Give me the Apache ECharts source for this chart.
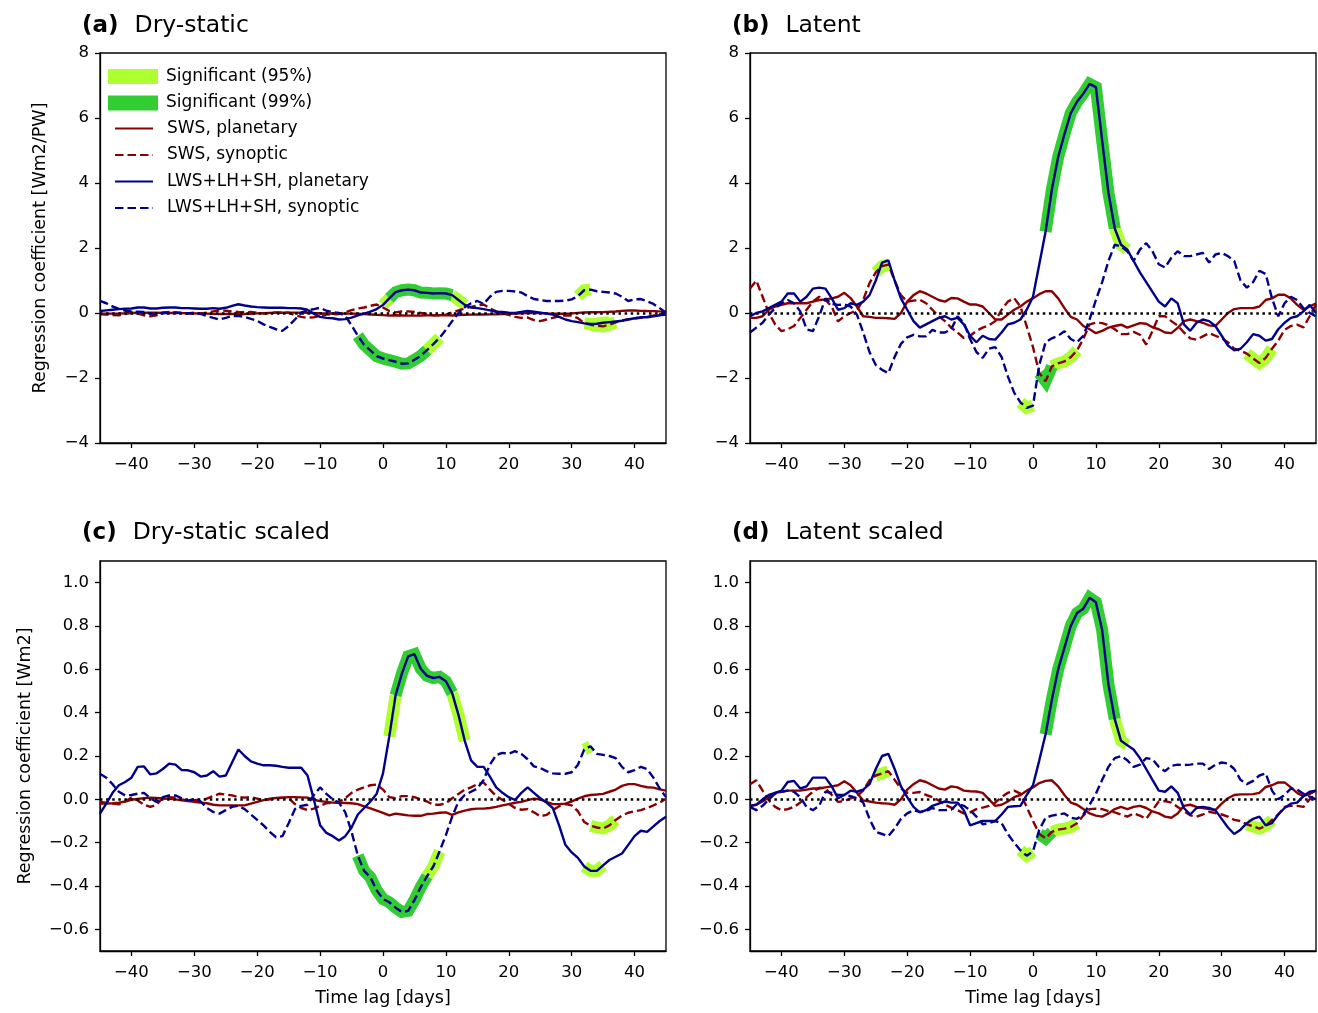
<!DOCTYPE html>
<html><head><meta charset="utf-8">
<script src="https://cdn.jsdelivr.net/npm/echarts@6/dist/echarts.min.js"></script>
<style>html,body{margin:0;padding:0;background:#fff}#chart{width:1318px;height:1013px}</style>
</head><body><div id="chart"></div>
<script>
// ---- time lags (days) ----
const lags = [-45,-44,-43,-42,-41,-40,-39,-38,-37,-36,-35,-34,-33,-32,-31,-30,-29,-28,-27,-26,-25,-24,-23,-22,-21,-20,-19,-18,-17,-16,-15,-14,-13,-12,-11,-10,-9,-8,-7,-6,-5,-4,-3,-2,-1,0,1,2,3,4,5,6,7,8,9,10,11,12,13,14,15,16,17,18,19,20,21,22,23,24,25,26,27,28,29,30,31,32,33,34,35,36,37,38,39,40,41,42,43,44,45];
const xTicks = [-40,-30,-20,-10,0,10,20,30,40];
const cdYTicks = [-0.6,-0.4,-0.2,0,0.2,0.4,0.6,0.8,1.0];

// ---- (a) Dry-static ----
const aSwsPlan = [-0.02,-0.02,-0.02,-0.016,-0.01,0.0,0.002,0.006,0.008,0.006,
 0.004,0.002,0.0,-0.005,-0.009,-0.013,-0.016,-0.02,-0.027,-0.03,
 -0.03,-0.03,-0.03,-0.03,-0.022,-0.013,-0.004,0.003,0.006,0.009,
 0.011,0.011,0.01,0.009,-0.002,-0.009,-0.013,-0.016,-0.017,-0.018,
 -0.02,-0.024,-0.034,-0.045,-0.056,-0.066,-0.08,-0.071,-0.075,-0.08,
 -0.082,-0.082,-0.073,-0.071,-0.067,-0.064,-0.077,-0.064,-0.056,-0.05,
 -0.046,-0.046,-0.043,-0.037,-0.03,-0.024,-0.017,-0.013,-0.004,0.003,
 0.0,-0.013,-0.024,-0.024,-0.021,-0.011,0.003,0.015,0.021,0.024,
 0.027,0.037,0.048,0.066,0.075,0.075,0.066,0.06,0.058,0.049,0.043];
const aSwsSyn = [-0.04,-0.05,-0.06,-0.07,-0.03,0.02,-0.02,-0.07,-0.1,-0.07,
 0.02,0.03,0.02,0.0,-0.02,-0.01,-0.01,0.01,0.05,0.08,
 0.07,0.05,0.03,0.02,0.03,0.01,-0.02,0.0,0.02,0.02,
 0.01,-0.07,-0.12,-0.15,-0.13,-0.09,-0.05,-0.04,-0.03,0.02,
 0.09,0.14,0.17,0.22,0.26,0.17,0.06,0.02,0.05,0.05,
 0.03,0.0,-0.03,-0.07,-0.07,-0.05,0.02,0.08,0.14,0.19,
 0.23,0.26,0.14,0.05,-0.01,-0.06,-0.12,-0.15,-0.14,-0.22,
 -0.25,-0.2,-0.15,-0.1,-0.07,-0.08,-0.16,-0.31,-0.36,-0.39,
 -0.41,-0.36,-0.29,-0.23,-0.19,-0.17,-0.15,-0.12,-0.08,-0.04,0.01];
const aLwsPlan = [0.06,0.08,0.1,0.12,0.13,0.14,0.17,0.17,0.14,0.14,
 0.16,0.17,0.17,0.15,0.15,0.14,0.13,0.13,0.15,0.13,
 0.16,0.22,0.27,0.23,0.2,0.18,0.17,0.16,0.16,0.16,
 0.15,0.15,0.14,0.1,-0.02,-0.12,-0.15,-0.16,-0.2,-0.19,
 -0.14,-0.07,-0.02,0.04,0.12,0.25,0.45,0.64,0.7,0.72,
 0.7,0.63,0.62,0.6,0.61,0.6,0.55,0.4,0.25,0.17,
 0.15,0.12,0.08,0.04,0.03,0.01,0.0,0.03,0.06,0.04,
 0.01,-0.02,-0.05,-0.12,-0.2,-0.25,-0.28,-0.32,-0.34,-0.33,
 -0.3,-0.28,-0.26,-0.24,-0.2,-0.16,-0.13,-0.13,-0.1,-0.07,-0.05];
const aLwsSyn = [0.37,0.3,0.2,0.13,0.07,0.05,0.04,0.03,-0.02,-0.03,
 0.0,0.0,0.01,0.0,-0.01,0.01,-0.03,-0.09,-0.15,-0.2,
 -0.15,-0.09,-0.09,-0.12,-0.18,-0.24,-0.35,-0.43,-0.5,-0.55,
 -0.4,-0.2,0.01,0.08,0.12,0.16,0.07,0.03,0.0,-0.09,
 -0.38,-0.7,-0.98,-1.15,-1.33,-1.4,-1.45,-1.5,-1.56,-1.55,
 -1.44,-1.32,-1.14,-0.96,-0.76,-0.52,-0.25,0.0,0.18,0.3,
 0.37,0.28,0.5,0.65,0.68,0.68,0.66,0.63,0.52,0.43,
 0.4,0.37,0.37,0.37,0.38,0.42,0.52,0.7,0.72,0.67,
 0.65,0.63,0.6,0.5,0.37,0.42,0.43,0.36,0.28,0.15,0.01];

// ---- (b) Latent ----
const bSwsPlan = [-0.15,-0.15,-0.1,0.1,0.2,0.25,0.3,0.3,0.3,0.3,
 0.35,0.4,0.42,0.45,0.5,0.62,0.46,0.2,-0.1,-0.12,
 -0.15,-0.15,-0.16,-0.18,0.0,0.35,0.55,0.67,0.6,0.5,
 0.4,0.35,0.46,0.45,0.35,0.26,0.26,0.2,0.0,-0.2,
 -0.2,-0.05,0.1,0.2,0.35,0.45,0.58,0.67,0.67,0.45,
 0.15,-0.12,-0.2,-0.4,-0.5,-0.62,-0.55,-0.45,-0.4,-0.36,
 -0.45,-0.38,-0.31,-0.33,-0.44,-0.5,-0.6,-0.62,-0.46,-0.25,
 -0.2,-0.25,-0.3,-0.38,-0.4,-0.2,0.0,0.12,0.15,0.15,
 0.15,0.2,0.4,0.45,0.56,0.56,0.45,0.25,0.1,0.2,0.3];
const bSwsSyn = [0.75,1.0,0.5,0.0,-0.35,-0.56,-0.5,-0.4,-0.15,0.1,
 0.35,0.5,0.4,0.2,-0.26,-0.1,0.0,0.08,0.4,0.92,
 1.25,1.44,1.49,1.0,0.55,0.35,0.38,0.41,0.3,0.1,
 -0.1,-0.25,-0.45,-0.6,-0.77,-0.7,-0.55,-0.45,-0.38,-0.25,
 0.1,0.35,0.46,0.2,-0.41,-1.05,-1.85,-2.1,-1.64,-1.55,
 -1.49,-1.36,-1.15,-0.8,-0.35,-0.3,-0.31,-0.38,-0.5,-0.65,
 -0.65,-0.58,-0.67,-0.97,-0.55,-0.1,-0.1,-0.25,-0.38,-0.6,
 -0.78,-0.82,-0.72,-0.62,-0.7,-0.78,-0.9,-1.1,-1.16,-1.25,
 -1.4,-1.54,-1.38,-1.1,-0.85,-0.52,-0.4,-0.36,-0.44,-0.1,0.26];
const bLwsPlan = [-0.1,0.0,0.05,0.15,0.25,0.35,0.6,0.6,0.35,0.5,
 0.75,0.78,0.75,0.45,0.1,0.15,0.3,0.25,0.35,0.55,
 1.0,1.55,1.62,1.0,0.45,0.1,-0.25,-0.45,-0.35,-0.25,
 -0.15,-0.1,-0.2,-0.15,-0.35,-0.7,-0.9,-0.7,-0.8,-0.82,
 -0.6,-0.35,-0.3,-0.2,0.1,0.5,1.5,2.5,3.8,4.8,
 5.5,6.15,6.5,6.75,7.05,6.95,5.3,3.7,2.6,2.1,
 1.95,1.6,1.25,0.95,0.65,0.35,0.2,0.45,0.3,-0.35,
 -0.55,-0.3,-0.2,-0.25,-0.4,-0.7,-1.0,-1.15,-1.1,-0.9,
 -0.65,-0.7,-0.85,-0.8,-0.5,-0.3,-0.15,-0.1,0.05,0.25,0.0];
const bLwsSyn = [-0.6,-0.45,-0.3,-0.05,0.15,0.3,0.4,0.3,0.05,-0.5,
 -0.56,-0.1,0.45,0.28,0.25,0.26,0.2,-0.05,-0.6,-1.2,
 -1.6,-1.75,-1.85,-1.35,-0.95,-0.75,-0.67,-0.72,-0.72,-0.52,
 -0.6,-0.6,-0.5,-0.1,-0.3,-0.8,-1.2,-1.38,-1.1,-1.05,
 -1.35,-1.95,-2.45,-2.75,-2.92,-2.85,-1.6,-0.9,-0.78,-0.7,
 -0.56,-0.8,-0.9,-0.7,-0.2,0.4,0.95,1.6,2.1,2.05,
 1.9,1.6,1.95,2.15,1.9,1.5,1.4,1.7,1.9,1.75,
 1.75,1.8,1.85,1.55,1.8,1.85,1.75,1.6,1.0,0.78,
 0.95,1.3,1.2,0.45,-0.1,0.3,0.5,0.4,0.15,0.0,-0.1];

// ---- (c) Dry-static scaled ----
const cSwsPlan = [-0.02,-0.02,-0.018,-0.015,-0.01,-0.002,0.002,0.005,0.008,0.006,
 0.004,0.002,0.0,-0.004,-0.008,-0.012,-0.015,-0.018,-0.025,-0.028,
 -0.028,-0.028,-0.028,-0.028,-0.02,-0.012,-0.004,0.003,0.006,0.008,
 0.01,0.01,0.009,0.008,-0.002,-0.008,-0.012,-0.015,-0.016,-0.017,
 -0.018,-0.022,-0.032,-0.042,-0.052,-0.062,-0.074,-0.066,-0.07,-0.074,
 -0.076,-0.076,-0.068,-0.066,-0.062,-0.06,-0.072,-0.06,-0.052,-0.046,
 -0.043,-0.043,-0.04,-0.035,-0.028,-0.022,-0.016,-0.012,-0.004,0.003,
 0.0,-0.012,-0.022,-0.022,-0.02,-0.01,0.003,0.014,0.02,0.022,
 0.025,0.035,0.045,0.062,0.07,0.07,0.062,0.056,0.054,0.046,0.04];
const cSwsSyn = [-0.012,-0.015,-0.02,-0.023,-0.01,0.008,-0.005,-0.025,-0.035,-0.025,
 0.008,0.01,0.008,0.0,-0.005,-0.004,-0.002,0.003,0.015,0.026,
 0.022,0.018,0.01,0.008,0.01,0.003,-0.005,0.0,0.005,0.008,
 0.005,-0.022,-0.04,-0.05,-0.043,-0.03,-0.018,-0.015,-0.012,0.005,
 0.03,0.045,0.055,0.065,0.068,0.045,0.01,0.005,0.015,0.015,
 0.01,0.0,-0.01,-0.025,-0.025,-0.018,0.005,0.025,0.045,0.055,
 0.07,0.078,0.045,0.015,-0.003,-0.02,-0.04,-0.048,-0.045,-0.06,
 -0.078,-0.072,-0.05,-0.032,-0.022,-0.028,-0.055,-0.105,-0.122,-0.13,
 -0.135,-0.12,-0.095,-0.075,-0.062,-0.055,-0.05,-0.04,-0.028,-0.015,0.003];
const cLwsPlan = [-0.066,-0.02,0.03,0.065,0.08,0.1,0.15,0.152,0.115,0.12,
 0.14,0.165,0.16,0.135,0.134,0.125,0.105,0.11,0.13,0.105,
 0.11,0.17,0.23,0.2,0.175,0.165,0.157,0.157,0.155,0.15,
 0.146,0.146,0.146,0.11,0.0,-0.12,-0.155,-0.17,-0.19,-0.17,
 -0.13,-0.07,-0.04,-0.01,0.026,0.12,0.29,0.48,0.58,0.66,
 0.67,0.603,0.57,0.56,0.565,0.545,0.49,0.39,0.27,0.18,
 0.15,0.15,0.105,0.055,0.03,0.01,-0.003,0.03,0.055,0.03,
 0.005,-0.015,-0.04,-0.12,-0.21,-0.245,-0.27,-0.31,-0.33,-0.33,
 -0.305,-0.28,-0.265,-0.25,-0.21,-0.17,-0.145,-0.15,-0.125,-0.1,-0.08];
const cLwsSyn = [0.118,0.1,0.07,0.035,0.018,0.02,0.026,0.03,0.005,-0.012,
 0.01,0.018,0.018,0.005,-0.005,0.0,-0.01,-0.04,-0.058,-0.066,
 -0.05,-0.035,-0.03,-0.045,-0.07,-0.095,-0.12,-0.15,-0.175,-0.17,
 -0.11,-0.045,-0.03,-0.025,0.02,0.055,0.025,0.0,-0.015,-0.06,
 -0.15,-0.26,-0.33,-0.36,-0.42,-0.46,-0.475,-0.5,-0.52,-0.515,
 -0.465,-0.405,-0.355,-0.31,-0.24,-0.165,-0.08,-0.01,0.02,0.035,
 0.05,0.09,0.16,0.205,0.214,0.21,0.222,0.21,0.185,0.152,
 0.145,0.13,0.12,0.118,0.118,0.125,0.16,0.23,0.245,0.21,
 0.205,0.2,0.19,0.15,0.125,0.135,0.15,0.14,0.1,0.05,0.01];

// ---- (d) Latent scaled ----
const dSwsPlan = [-0.03,-0.025,-0.01,0.01,0.03,0.035,0.04,0.04,0.04,0.045,
 0.05,0.05,0.055,0.06,0.065,0.083,0.065,0.03,-0.005,-0.01,
 -0.015,-0.018,-0.02,-0.025,0.0,0.045,0.07,0.088,0.08,0.065,
 0.05,0.045,0.06,0.055,0.04,0.037,0.036,0.03,0.0,-0.03,
 -0.025,-0.01,0.01,0.02,0.04,0.055,0.075,0.085,0.088,0.06,
 0.02,-0.015,-0.025,-0.045,-0.065,-0.075,-0.08,-0.065,-0.045,-0.035,
 -0.045,-0.035,-0.03,-0.04,-0.056,-0.065,-0.08,-0.085,-0.065,-0.03,
 -0.025,-0.035,-0.04,-0.045,-0.05,-0.02,0.005,0.02,0.023,0.023,
 0.024,0.03,0.057,0.065,0.078,0.078,0.055,0.03,0.015,0.025,0.04];
const dSwsSyn = [0.07,0.088,0.04,-0.005,-0.035,-0.05,-0.045,-0.035,-0.015,0.01,
 0.035,0.054,0.05,0.02,-0.012,-0.008,0.005,0.015,0.04,0.088,
 0.11,0.12,0.13,0.09,0.05,0.03,0.03,0.034,0.02,0.01,
 -0.005,-0.025,-0.038,-0.05,-0.065,-0.06,-0.045,-0.038,-0.03,-0.015,
 0.01,0.03,0.04,0.026,-0.035,-0.1,-0.16,-0.18,-0.15,-0.14,
 -0.135,-0.128,-0.11,-0.075,-0.045,-0.043,-0.045,-0.054,-0.06,-0.07,
 -0.08,-0.065,-0.075,-0.09,-0.05,-0.01,-0.008,-0.015,-0.035,-0.055,
 -0.074,-0.08,-0.07,-0.058,-0.063,-0.07,-0.08,-0.095,-0.1,-0.115,
 -0.125,-0.135,-0.122,-0.095,-0.07,-0.035,-0.03,-0.03,-0.035,0.0,0.026];
const dLwsPlan = [-0.03,-0.025,0.0,0.02,0.03,0.04,0.08,0.085,0.05,0.06,
 0.1,0.1,0.1,0.06,0.005,0.02,0.04,0.035,0.045,0.07,
 0.14,0.2,0.21,0.14,0.06,0.01,-0.035,-0.06,-0.05,-0.03,
 -0.02,-0.01,-0.015,-0.015,-0.05,-0.12,-0.11,-0.1,-0.1,-0.1,
 -0.07,-0.035,-0.032,-0.03,0.02,0.065,0.18,0.3,0.46,0.6,
 0.7,0.8,0.86,0.88,0.93,0.91,0.78,0.53,0.37,0.27,
 0.25,0.23,0.19,0.14,0.09,0.04,0.035,0.06,0.03,-0.04,
 -0.07,-0.04,-0.035,-0.04,-0.05,-0.09,-0.13,-0.16,-0.14,-0.11,
 -0.09,-0.08,-0.12,-0.11,-0.07,-0.04,-0.02,-0.015,0.015,0.035,0.04];
const dLwsSyn = [-0.035,-0.05,-0.03,0.0,0.026,0.035,0.04,0.035,0.01,-0.035,
 -0.05,-0.03,0.035,0.03,0.02,0.02,0.015,0.005,-0.015,-0.09,
 -0.15,-0.16,-0.17,-0.135,-0.09,-0.065,-0.05,-0.058,-0.055,-0.04,
 -0.05,-0.05,-0.048,-0.02,-0.03,-0.05,-0.08,-0.115,-0.11,-0.1,
 -0.11,-0.16,-0.2,-0.235,-0.26,-0.24,-0.14,-0.085,-0.075,-0.07,
 -0.065,-0.085,-0.09,-0.07,-0.025,0.026,0.09,0.15,0.19,0.2,
 0.18,0.15,0.16,0.19,0.185,0.15,0.13,0.155,0.16,0.158,
 0.16,0.165,0.165,0.14,0.16,0.17,0.165,0.14,0.09,0.07,
 0.085,0.11,0.12,0.04,0.0,0.02,0.05,0.045,0.026,0.012,0.0];

// ---- significant lag ranges [from, to] per line ----
const aSig95 = {lwsPlan:[[0,1],[11,13],[32,36]], lwsSyn:[[7,9],[31,33]], swsSyn:[[33,37]]};
const aSig99 = {lwsPlan:[[1,11]], lwsSyn:[[-4,7]]};
const bSig95 = {lwsPlan:[[13,15]], swsSyn:[[-25,-23],[3,7],[34,38]], lwsSyn:[[-2,0]]};
const bSig99 = {lwsPlan:[[2,13]], swsSyn:[[1,3]]};
const cSig95 = {lwsPlan:[[1,2],[11,13],[32,35]], lwsSyn:[[7,9],[32,33]], swsSyn:[[33,37]]};
const cSig99 = {lwsPlan:[[2,11]], lwsSyn:[[-4,7]]};
const dSig95 = {lwsPlan:[[13,15]], swsSyn:[[-25,-23],[3,7],[34,38]], lwsSyn:[[-2,0]]};
const dSig99 = {lwsPlan:[[2,13]], swsSyn:[[1,3]]};

const panelTitles = [['(a)','Dry-static'],['(b)','Latent'],['(c)','Dry-static scaled'],['(d)','Latent scaled']];
const lineNames = {swsPlan:'SWS, planetary', swsSyn:'SWS, synoptic', lwsPlan:'LWS+LH+SH, planetary', lwsSyn:'LWS+LH+SH, synoptic'};
const sigNames = ['Significant (95%)','Significant (99%)'];

// ---------------- build chart ----------------
const panels = [
  {lines:{swsPlan:aSwsPlan, swsSyn:aSwsSyn, lwsPlan:aLwsPlan, lwsSyn:aLwsSyn}, s95:aSig95, s99:aSig99},
  {lines:{swsPlan:bSwsPlan, swsSyn:bSwsSyn, lwsPlan:bLwsPlan, lwsSyn:bLwsSyn}, s95:bSig95, s99:bSig99},
  {lines:{swsPlan:cSwsPlan, swsSyn:cSwsSyn, lwsPlan:cLwsPlan, lwsSyn:cLwsSyn}, s95:cSig95, s99:cSig99},
  {lines:{swsPlan:dSwsPlan, swsSyn:dSwsSyn, lwsPlan:dLwsPlan, lwsSyn:dLwsSyn}, s95:dSig95, s99:dSig99}
];
const RED = '#8b0000', BLUE = '#00008b', G95 = '#adff2f', G99 = '#32cd32';
const FONT = 'DejaVu Sans';
const DASH = [8.5,4];
const lineStyles = {
  swsPlan:{color:RED, type:'solid'}, swsSyn:{color:RED, type:DASH},
  lwsPlan:{color:BLUE, type:'solid'}, lwsSyn:{color:BLUE, type:DASH}
};
const gridPos = [
  {left:100, top:53, width:566, height:390},
  {left:750, top:53, width:566, height:390},
  {left:100, top:561, width:566, height:390},
  {left:750, top:561, width:566, height:390}
];
const minus = s => String(s).replace('-', '\u2212');

function pairs(vals){ return lags.map((l,i)=>[l, vals[i]]); }
function sigPairs(vals, ranges){
  return lags.map((l,i)=> ranges.some(r=> l>=r[0] && l<=r[1]) ? [l, vals[i]] : [l, '-']);
}

const grids = [], xAxes = [], yAxes = [], series = [], titles = [];
panels.forEach((p, gi) => {
  grids.push(Object.assign({show:true, borderColor:'#000', borderWidth:1.3, backgroundColor:'#fff', outerBoundsMode:'none', containLabel:false}, gridPos[gi]));
  xAxes.push({
    type:'value', gridIndex:gi, min:-45, max:45,
    axisLine:{show:true, onZero:false, lineStyle:{color:'#000', width:1.3}},
    axisTick:{show:true, customValues:xTicks, length:5, lineStyle:{color:'#000', width:1.3}},
    axisLabel:{customValues:xTicks, formatter:v=>minus(v), fontSize:16.5, color:'#000', margin:13, fontFamily:FONT},
    splitLine:{show:false},
    name: gi>=2 ? 'Time lag [days]' : '', nameLocation:'middle', nameGap:38,
    nameTextStyle:{fontSize:17.5, color:'#000', fontFamily:FONT}
  });
  const scaled = gi>=2;
  const y = {
    type:'value', gridIndex:gi,
    axisLine:{show:true, onZero:false, lineStyle:{color:'#000', width:1.3}},
    splitLine:{show:false},
    nameLocation:'middle', nameTextStyle:{fontSize:17.5, color:'#000', fontFamily:FONT}
  };
  if (scaled) {
    Object.assign(y, {min:-0.7, max:1.1,
      axisTick:{show:true, customValues:cdYTicks, length:5, lineStyle:{color:'#000', width:1.3}},
      axisLabel:{customValues:cdYTicks, formatter:v=>minus(Number(v).toFixed(1)), fontSize:16.5, color:'#000', margin:11, fontFamily:FONT}});
    if (gi===2) { y.name = 'Regression coefficient [Wm2]'; y.nameGap = 66; }
  } else {
    Object.assign(y, {min:-4, max:8, interval:2,
      axisTick:{show:true, length:5, lineStyle:{color:'#000', width:1.3}},
      axisLabel:{formatter:v=>minus(v), fontSize:16.5, color:'#000', margin:11, fontFamily:FONT}});
    if (gi===0) { y.name = 'Regression coefficient [Wm2/PW]'; y.nameGap = 51; }
  }
  yAxes.push(y);

  // significance highlights
  [[p.s95, G95, sigNames[0], 1], [p.s99, G99, sigNames[1], 2]].forEach(([sig, col, nm, z]) => {
    Object.keys(sig).forEach(key => {
      series.push({type:'line', name:nm, xAxisIndex:gi, yAxisIndex:gi, data:sigPairs(p.lines[key], sig[key]),
        color:col, symbol:'none', connectNulls:false, z:z, silent:true, animation:false,
        lineStyle:{color:col, width:12, cap:'butt', join:'miter'}, emphasis:{disabled:true}});
    });
  });
  // main lines
  ['swsPlan','swsSyn','lwsPlan','lwsSyn'].forEach((key, k) => {
    const s = {type:'line', name:lineNames[key], xAxisIndex:gi, yAxisIndex:gi, data:pairs(p.lines[key]),
      color:lineStyles[key].color, symbol:'none', z:3+k, silent:true, animation:false,
      lineStyle:{color:lineStyles[key].color, width:2.4, type:lineStyles[key].type}, emphasis:{disabled:true}};
    if (key==='lwsSyn') {
      s.markLine = {silent:true, symbol:'none', animation:false, label:{show:false},
        lineStyle:{color:'#000', width:2.5, type:[2.5,3.6]}, emphasis:{disabled:true}, data:[{yAxis:0}]};
    }
    series.push(s);
  });

  const t = panelTitles[gi];
  titles.push({
    text:'{b|'+t[0]+'}{n|'+t[1]+'}', left: gi%2===0 ? 82 : 732, top: gi<2 ? 11 : 518, padding:0,
    textStyle:{fontFamily:FONT, fontWeight:'normal', rich:{
      b:{fontSize:23, fontWeight:'bold', color:'#000', fontFamily:FONT, padding:[0,16,0,0], lineHeight:30},
      n:{fontSize:23.5, fontWeight:'normal', color:'#000', fontFamily:FONT, lineHeight:30}}}
  });
});

const option = {
  animation:false,
  textStyle:{fontFamily:FONT},
  title:titles,
  grid:grids, xAxis:xAxes, yAxis:yAxes,
  legend:[
    {data:[{name:sigNames[0], icon:'rect'},{name:sigNames[1], icon:'rect'}], orient:'vertical',
     left:108, top:68, padding:0, itemWidth:50, itemHeight:15, itemGap:9.5, selectedMode:false,
     textStyle:{fontSize:17, color:'#000', fontFamily:FONT, lineHeight:17, padding:[0,0,0,3]}},
    {data:[lineNames.swsPlan, lineNames.swsSyn, lineNames.lwsPlan, lineNames.lwsSyn], orient:'vertical',
     left:114, top:120, padding:0, itemWidth:38, itemHeight:15, itemGap:9.5, selectedMode:false,
     itemStyle:{opacity:0},
     textStyle:{fontSize:17, color:'#000', fontFamily:FONT, lineHeight:17, padding:[0,0,0,9]}}
  ],
  series:series
};
const chart = echarts.init(document.getElementById('chart'), null, {renderer:'canvas'});
chart.setOption(option);
</script>
</body></html>
